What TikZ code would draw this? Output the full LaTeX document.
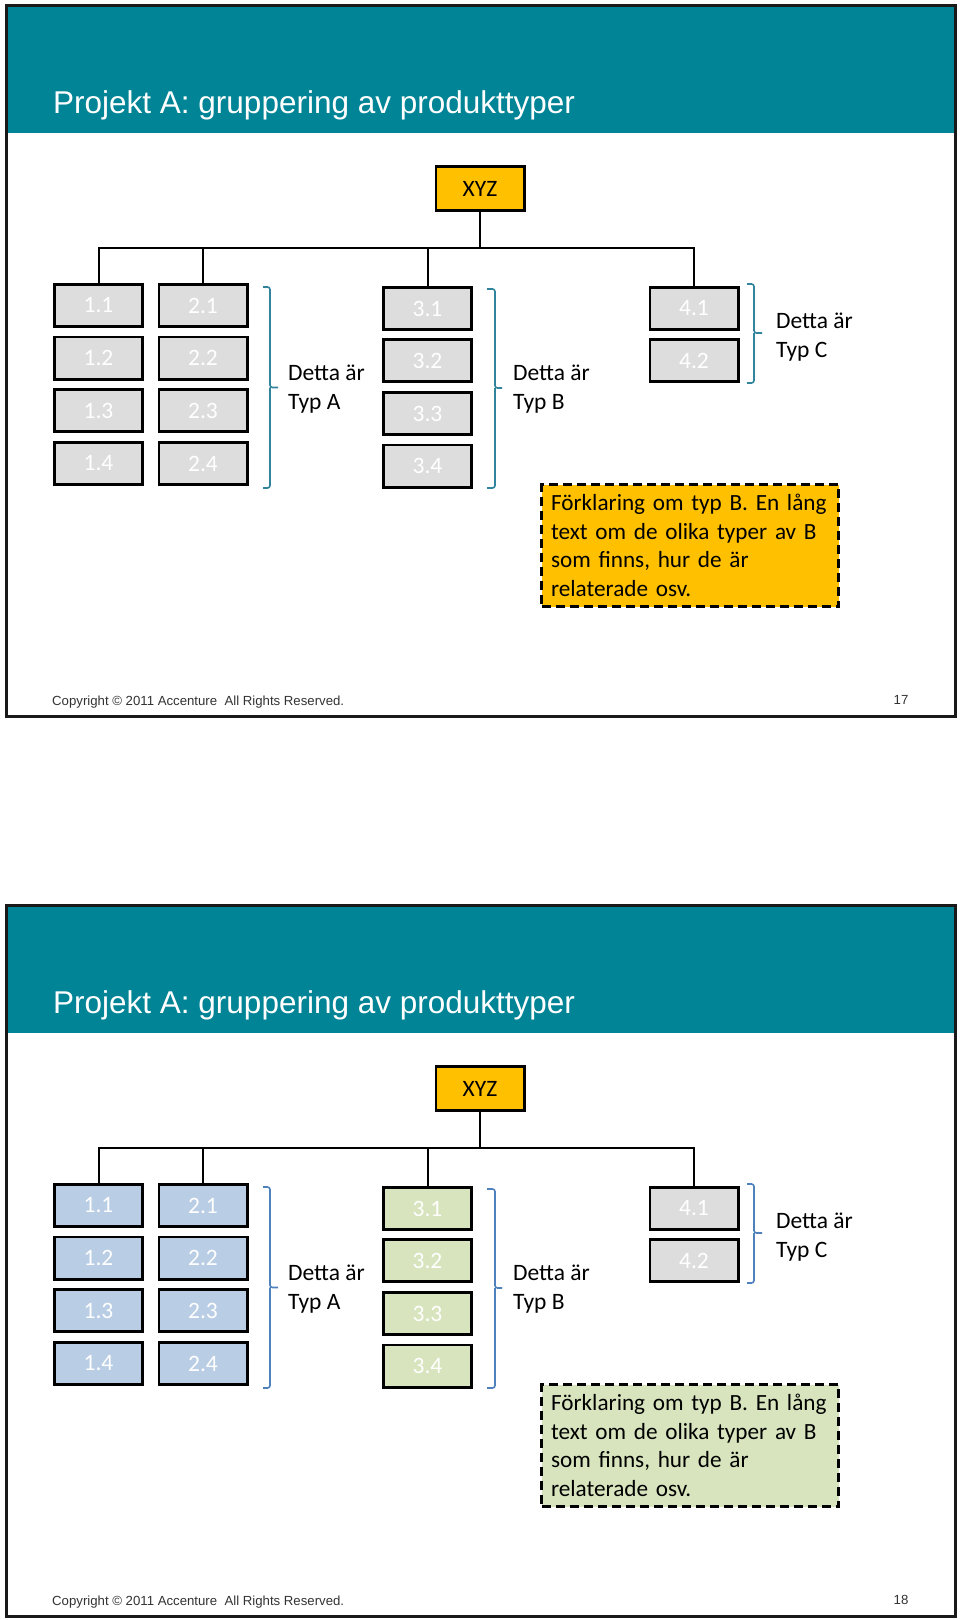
\documentclass[tikz,border=0pt]{standalone}
\usepackage{fontspec}
\setmainfont{Carlito}
\newfontfamily\arialf{Liberation Sans}
\frenchspacing
\definecolor{bandteal}{RGB}{0,132,150}
\definecolor{braceteal}{RGB}{49,132,155}
\definecolor{braceblue}{RGB}{79,129,189}
\definecolor{boxgray}{RGB}{221,221,221}
\definecolor{boxblue}{RGB}{185,205,229}
\definecolor{boxgreen}{RGB}{215,228,189}
\definecolor{xyzorange}{RGB}{255,192,0}
\definecolor{footgray}{RGB}{51,51,51}
\tikzset{
  bx/.style={draw=black, line width=2.8pt, minimum width=88.2pt, minimum height=42.2pt,
    inner sep=0pt, font=\fontsize{23.5}{28}\selectfont, text=white},
  topbox/.style={draw=black, line width=2.8pt, fill=xyzorange, minimum width=88.2pt,
    minimum height=44.2pt, inner sep=0pt, font=\fontsize{23.5}{28}\selectfont, text=black},
  conn/.style={draw=black, line width=2pt},
  brc/.style={line width=1.6pt, rounded corners=2.5pt},
  lbl/.style={font=\fontsize{23.5}{29}\selectfont, align=left, anchor=west, inner sep=0pt},
  notebox/.style={draw=black, line width=3pt, dash pattern=on 9pt off 5pt,
    minimum height=122pt, text width=278pt, inner xsep=9.5pt, inner ysep=0pt, align=left,
    font=\fontsize{23.2}{28.5}\selectfont},
  slidetitle/.style={font=\arialf\fontsize{31.5}{36}\selectfont, text=white, anchor=base west, inner sep=0pt},
  foot/.style={font=\arialf\fontsize{13.2}{15}\selectfont, text=footgray, inner sep=0pt},
}
\newcommand\myslide[8]{%
  \begin{scope}[shift={(0,#2)}]
    \fill[bandteal] (8,7) rectangle (954,133);
    \draw[line width=3pt, draw=black!90] (6.5,5.5) rectangle (955.5,716.5);
    \node[slidetitle] (#1title) at (53,113) {Projekt A: gruppering av produkttyper};
    \node[topbox] (#1xyz) at (480,188.5) {XYZ};
    \foreach \n/\yy in {1/305.5,2/358,3/410.5,4/463.5} {
      \node[bx, fill=#3] (#1b1\n) at (98.5,\yy) {1.\n};
      \node[bx, fill=#3] (#1b2\n) at (203,\yy) {2.\n};
    }
    \foreach \n/\yy in {1/308.5,2/360.5,3/413.5,4/466} {
      \node[bx, fill=#4] (#1b3\n) at (427.5,\yy) {3.\n};
    }
    \foreach \n/\yy in {1/308.5,2/360.5} {
      \node[bx, fill=#5] (#1b4\n) at (694,\yy) {4.\n};
    }
    \coordinate (#1j) at (480,248);
    \draw[conn] (#1xyz) -- (#1j);
    \draw[conn] (#1b11.north) |- (#1j);
    \draw[conn] (#1b21.north) |- (#1j);
    \draw[conn] (#1b31.north) |- (#1j);
    \draw[conn] (#1b41.north) |- (#1j);
    % braces
    \draw[brc, draw=#6] (263,287) -- (270,287) -- (270,387.5) -- (278,387.5)
      (270,387.5) -- (270,488) -- (263,488);
    \draw[brc, draw=#6] (487,289) -- (495,289) -- (495,388) -- (502,388)
      (495,388) -- (495,488) -- (487,488);
    \draw[brc, draw=#6] (747,284) -- (754,284) -- (754,333) -- (762,333)
      (754,333) -- (754,383) -- (747,383);
    \node[lbl] (#1ta) at (288,389.5) {Detta är\\Typ A};
    \node[lbl] (#1tb) at (513,389) {Detta är\\Typ B};
    \node[lbl] (#1tc) at (776,337.5) {Detta är\\Typ C};
    \node[notebox, fill=#7] (#1note) at (690,545.5)
      {\mbox{Förklaring om typ B. En lång}\\\mbox{text om de olika typer av B}\\\mbox{som finns, hur de är}\\\mbox{relaterade osv.}};
    \node[foot, anchor=base west] (#1copy) at (52,705) {Copyright © 2011 Accenture\ \ All Rights Reserved.};
    \node[foot, anchor=base] (#1page) at (901,704.5) {#8};
  \end{scope}%
}
\begin{document}
\begin{tikzpicture}[x=1pt,y=-1pt]
  \useasboundingbox (0,0) rectangle (960,1620);
  \fill[white] (0,0) rectangle (960,1620);
  \myslide{s1}{0}{boxgray}{boxgray}{boxgray}{braceteal}{xyzorange}{17}
  \myslide{s2}{900}{boxblue}{boxgreen}{boxgray}{braceblue}{boxgreen}{18}
\end{tikzpicture}
\end{document}
